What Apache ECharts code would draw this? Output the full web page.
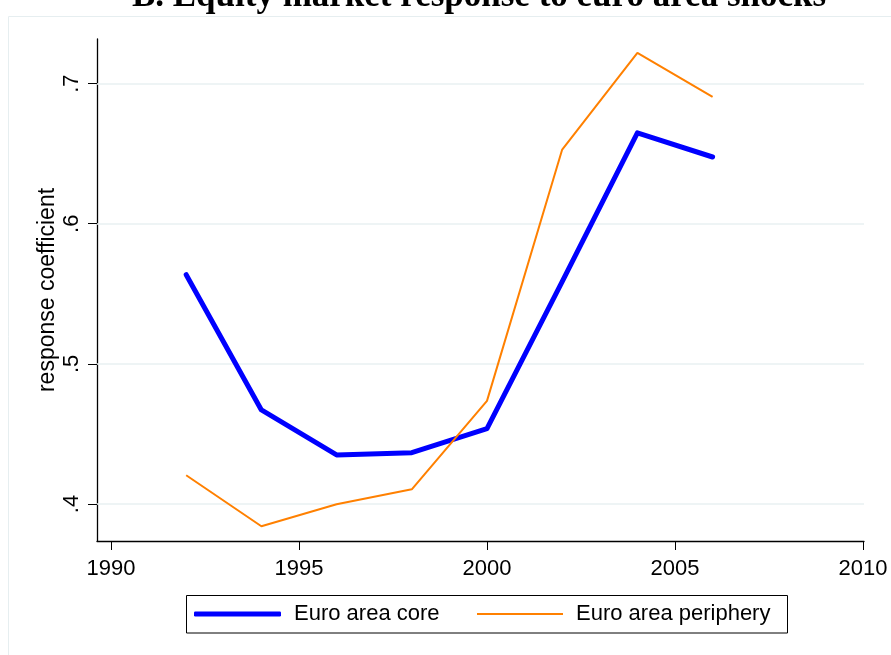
<!DOCTYPE html>
<html>
<head>
<meta charset="utf-8">
<style>
html,body{margin:0;padding:0;background:#fff;}
#chart{width:891px;height:655px;}
</style>
<script src="https://cdn.jsdelivr.net/npm/echarts@6/dist/echarts.min.js"></script>
</head>
<body>
<div id="chart"></div>
<script>
const titleText = 'B. Equity market response to euro area shocks';
const years = [1992, 1994, 1996, 1998, 2000, 2002, 2004, 2006];
const coreValues = [0.5636, 0.4671, 0.4350, 0.4366, 0.4538, 0.5586, 0.6648, 0.6476];
const peripheryValues = [0.4205, 0.3841, 0.3998, 0.4105, 0.4736, 0.6529, 0.7219, 0.6905];
const seriesNames = ['Euro area core', 'Euro area periphery'];
const xTicks = [1990, 1995, 2000, 2005, 2010];
const yTicks = [0.4, 0.5, 0.6, 0.7];
const yAxisName = 'response coefficient';

const chart = echarts.init(document.getElementById('chart'), null, {renderer: 'canvas'});
const font = 'Liberation Sans, Arial, sans-serif';
const legendText = {fontFamily: font, fontSize: 22, color: '#000', padding: [0, 0, 0, 8]};

chart.setOption({
  backgroundColor: '#ffffff',
  animation: false,
  graphic: [
    {type: 'rect', z: -10, silent: true,
     shape: {x: 8.5, y: 16.5, width: 1000, height: 1000},
     style: {fill: 'none', stroke: '#e6eef0', lineWidth: 1}},
    {type: 'rect', z: 10, silent: true,
     shape: {x: 186.5, y: 595.5, width: 601, height: 37.5},
     style: {fill: 'none', stroke: '#000', lineWidth: 1}},
    {type: 'text', silent: true, x: 479, y: -3,
     style: {text: titleText, fill: '#000', font: 'bold 35px "Liberation Serif", "Times New Roman", serif',
             textAlign: 'center', textVerticalAlign: 'middle'}}
  ],
  grid: {left: 97, top: 39, width: 767, height: 502, outerBoundsMode: 'none', containLabel: false},
  legend: [
    {
      left: 194, top: 603, padding: 0, orient: 'horizontal',
      icon: 'roundRect', itemWidth: 87, itemHeight: 5,
      textStyle: legendText,
      data: [seriesNames[0]]
    },
    {
      left: 477, top: 603, padding: 0, orient: 'horizontal',
      icon: 'rect', itemWidth: 86, itemHeight: 2,
      textStyle: legendText,
      data: [seriesNames[1]]
    }
  ],
  xAxis: {
    type: 'value', min: 1989.628, max: 2010.027,
    axisLine: {show: true, lineStyle: {color: '#000', width: 1.3}},
    axisTick: {show: true, length: 9, customValues: xTicks, lineStyle: {color: '#000', width: 1}},
    axisLabel: {customValues: xTicks, fontFamily: font, fontSize: 22, color: '#000', margin: 17,
                formatter: v => String(v)},
    splitLine: {show: false}
  },
  yAxis: {
    type: 'value', min: 0.3736, max: 0.7318,
    name: yAxisName, nameLocation: 'middle', nameRotate: 90, nameGap: 38, nameMoveOverlap: false,
    nameTextStyle: {fontFamily: font, fontSize: 23, color: '#000'},
    axisLine: {show: true, lineStyle: {color: '#000', width: 1.3}},
    axisTick: {show: true, length: 9, customValues: yTicks, lineStyle: {color: '#000', width: 1}},
    axisLabel: {customValues: yTicks, rotate: 90, fontFamily: font, fontSize: 22, color: '#000', margin: 14,
                formatter: v => String(v).replace(/^0/, '')},
    splitLine: {show: false}
  },
  series: [
    {
      name: seriesNames[0], type: 'line', symbol: 'none', z: 3,
      data: years.map((y, i) => [y, coreValues[i]]),
      lineStyle: {color: '#0000ff', width: 5, cap: 'round', join: 'round'},
      itemStyle: {color: '#0000ff'},
      markLine: {
        silent: true, symbol: 'none', z: 1, animation: false,
        label: {show: false},
        lineStyle: {color: '#e8f0f2', width: 1.5, type: 'solid'},
        data: yTicks.map(v => ({yAxis: v}))
      }
    },
    {
      name: seriesNames[1], type: 'line', symbol: 'none', z: 4,
      data: years.map((y, i) => [y, peripheryValues[i]]),
      lineStyle: {color: '#ff8000', width: 2},
      itemStyle: {color: '#ff8000'}
    }
  ]
});
</script>
</body>
</html>
